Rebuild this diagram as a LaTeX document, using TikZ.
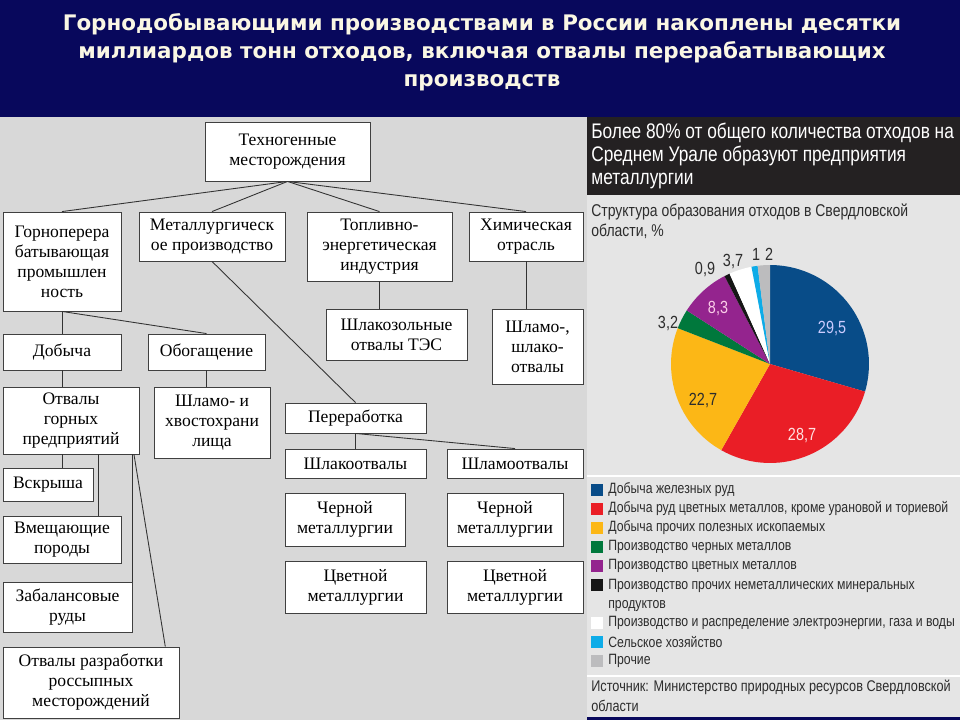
\documentclass[tikz,border=0pt]{standalone}
\usepackage{fontspec}
\setmainfont{Liberation Serif}
\newfontfamily\titlefont{DejaVu Sans}
\newfontfamily\chartfont[FakeStretch=0.82]{Liberation Sans}
\usetikzlibrary{calc}
\definecolor{slideNavy}{RGB}{8, 8, 92}
\definecolor{leftGray}{RGB}{216, 216, 216}
\definecolor{panelGray}{RGB}{229, 229, 229}
\definecolor{panelDark}{RGB}{36, 33, 34}
\definecolor{titleCream}{RGB}{250, 247, 228}
\definecolor{pieBlue}{RGB}{8, 76, 136}
\definecolor{pieRed}{RGB}{234, 30, 38}
\definecolor{pieOrange}{RGB}{252, 183, 22}
\definecolor{pieGreen}{RGB}{0, 120, 60}
\definecolor{piePurple}{RGB}{148, 36, 142}
\definecolor{pieBlack}{RGB}{22, 22, 22}
\definecolor{pieCyan}{RGB}{14, 172, 232}
\definecolor{pieGray}{RGB}{188, 188, 190}
\definecolor{inkGray}{RGB}{45, 45, 45}
\tikzset{
  title/.style={align=center, text=titleCream, inner sep=0pt, font=\titlefont\bfseries\fontsize{12.2}{15.9}\selectfont},
  box/.style={rectangle, draw=black!75, line width=0.5pt, fill=white, align=center, inner sep=1pt, font=\fontsize{10}{11.4}\selectfont},
  sz/.style 2 args={minimum width=#1*0.02cm, minimum height=#2*0.02cm},
  link/.style={draw=black!80, line width=0.5pt},
  headtext/.style={anchor=north west, align=left, inner sep=0pt, text=white, font=\chartfont\fontsize{12}{13.1}\selectfont},
  subtext/.style={anchor=north west, align=left, inner sep=0pt, text=inkGray, font=\chartfont\fontsize{9.7}{11.4}\selectfont},
  pielabel/.style={inner sep=0pt, font=\chartfont\fontsize{10}{12}\selectfont},
  legtext/.style={anchor=west, inner sep=0pt, text=inkGray, font=\chartfont\fontsize{8.5}{10.8}\selectfont},
  srctext/.style={anchor=north west, align=left, inner sep=0pt, text=inkGray, font=\chartfont\fontsize{8.8}{11}\selectfont},
}
\begin{document}
\begin{tikzpicture}[x=0.02cm, y=-0.02cm]
  \useasboundingbox (0,0) rectangle (960,720);
  % backgrounds
  \fill[slideNavy] (0,0) rectangle (960,117);
  \fill[leftGray] (0,117) rectangle (587,720);
  \fill[panelGray] (587,195) rectangle (960,720);
  \fill[panelDark] (587,117) rectangle (960,195);
  \draw[white, line width=1pt] (587,476) -- (960,476);
  \draw[white, line width=1pt] (587,676) -- (960,676);
  \fill[slideNavy] (587,717) rectangle (960,720);

  \node[title] (head) at (482,52) {Горнодобывающими производствами в России накоплены десятки\\миллиардов тонн отходов, включая отвалы перерабатывающих\\производств};

  % tree of waste sources
  \node[box, sz={165}{59}] (techno) at (287.5,151.5) {Техногенные\\месторождения};
  \node[box, sz={118}{99}] (gorno) at (62,261.5) {Горноперера\\батывающая\\промышлен\\ность};
  \node[box, sz={146}{49}] (metal) at (212,236.5) {Металлургическ\\ое производство};
  \node[box, sz={145}{69}] (toplivo) at (379.5,246.5) {Топливно-\\энергетическая\\индустрия};
  \node[box, sz={114}{49}] (khim) at (526,236.5) {Химическая\\отрасль};
  \node[box, sz={141}{51}] (shlakzol) at (396.5,334.5) {Шлакозольные\\отвалы ТЭС};
  \node[box, sz={91}{75}] (shlamo) at (537.5,346.5) {Шламо-,\\шлако-\\отвалы};
  \node[box, sz={118}{36}] (dobycha) at (62,352) {Добыча};
  \node[box, sz={117}{36}] (obog) at (206.5,352) {Обогащение};
  \node[box, sz={136}{67}] (otvgorn) at (71,420.5) {Отвалы\\горных\\предприятий};
  \node[box, sz={116}{71}] (hvost) at (212,422.5) {Шламо- и\\хвостохрани\\лища};
  \node[box, sz={90}{33}] (vskr) at (48,484.5) {Вскрыша};
  \node[box, sz={118}{47}] (vmesch) at (62,539.5) {Вмещающие\\породы};
  \node[box, sz={129}{50}] (zabal) at (67.5,607) {Забалансовые\\руды};
  \node[box, sz={176}{71}] (rossyp) at (91,682.5) {Отвалы разработки\\россыпных\\месторождений};
  \node[box, sz={141}{30}] (pererab) at (355.5,418) {Переработка};
  \node[box, sz={141}{29}] (shlakotv) at (355.5,463.5) {Шлакоотвалы};
  \node[box, sz={136}{29}] (shlamotv) at (515,463.5) {Шламоотвалы};
  \node[box, sz={120}{53}] (chernA) at (345,519.5) {Черной\\металлургии};
  \node[box, sz={141}{52}] (tsvetA) at (355.5,587) {Цветной\\металлургии};
  \node[box, sz={116}{53}] (chernB) at (505,519.5) {Черной\\металлургии};
  \node[box, sz={136}{52}] (tsvetB) at (515,587) {Цветной\\металлургии};

  \foreach \dst in {gorno, metal, toplivo, khim}
    \draw[link] (techno.south) -- (\dst.north);
  \draw[link] (gorno.south) -- (dobycha.north);
  \draw[link] (gorno.south) -- (obog.north);
  \draw[link] (dobycha.south) -- (dobycha.south |- otvgorn.north);
  \draw[link] (obog.south) -- (obog.south |- hvost.north);
  \draw[link] (otvgorn.south -| dobycha.south) -- (vskr.north -| dobycha.south);
  \coordinate (ogA) at ($(otvgorn.south west)!0.7!(otvgorn.south east)$);
  \coordinate (ogB) at ($(otvgorn.south west)!0.96!(otvgorn.south east)$);
  \draw[link] (ogA) -- (ogA |- vmesch.north);
  \draw[link] (zabal.north east |- otvgorn.south) -- (zabal.north east);
  \draw[link] (ogB) -- ($(rossyp.north west)!0.92!(rossyp.north east)$);
  \draw[link] (toplivo.south) -- (toplivo.south |- shlakzol.north);
  \draw[link] (khim.south) -- (khim.south |- shlamo.north);
  \draw[link] (metal.south) -- (pererab.north);
  \draw[link] (pererab.south) -- (shlakotv.north);
  \draw[link] (pererab.south) -- (shlamotv.north);
  \foreach \src/\dst/\f in {shlakotv/chernA/0.23, shlakotv/tsvetA/0.94, shlamotv/chernB/0.23, shlamotv/tsvetB/0.956}
    \draw[link] ($(\src.south west)!\f!(\src.south east)$) -- ($(\src.south west)!\f!(\src.south east)$ |- \dst.north);

  % chart panel
  \node[headtext] (charthead) at (591,123) {Более 80\% от общего количества отходов на\\Среднем Урале образуют предприятия\\металлургии};
  \node[subtext] (chartsub) at (591,203) {Структура образования отходов в Свердловской\\области, \%};

  \begin{scope}[shift={(770,364)}, x=1cm, y=1cm]
    \foreach \a/\b/\col in {90/-16.2/pieBlue, -16.2/-119.52/pieRed, -119.52/-201.24/pieOrange, -201.24/-212.76/pieGreen, -212.76/-242.64/piePurple, -242.64/-245.88/pieBlack, -245.88/-259.2/white, -259.2/-262.8/pieCyan, -262.8/-270/pieGray}
      \fill[\col] (0,0) -- (\a:1.98) arc[start angle=\a, end angle=\b, radius=1.98] -- cycle;
  \end{scope}

  \node[pielabel, text=blue!20!white] (valA) at (832,328) {29,5};
  \node[pielabel, text=red!12!white] (valB) at (802,435) {28,7};
  \node[pielabel, text=inkGray] (valC) at (703,400) {22,7};
  \node[pielabel, text=magenta!20!white] (valE) at (718,308) {8,3};
  \node[pielabel, text=inkGray] (valD) at (668,323) {3,2};
  \node[pielabel, text=inkGray] (valF) at (705,269) {0,9};
  \node[pielabel, text=inkGray] (valG) at (733,261) {3,7};
  \node[pielabel, text=inkGray] (valH) at (756,254) {1};
  \node[pielabel, text=inkGray] (valI) at (769,254) {2};

  % legend
  \foreach \y/\col/\txt [count=\i] in {490/pieBlue/{Добыча железных руд}, 509/pieRed/{Добыча руд цветных металлов, кроме урановой и ториевой}, 528/pieOrange/{Добыча прочих полезных ископаемых}, 547/pieGreen/{Производство черных металлов}, 566/piePurple/{Производство цветных металлов}, 623/white/{Производство и распределение электроэнергии, газа и воды}, 642/pieCyan/{Сельское хозяйство}, 661/pieGray/{Прочие}}
  {
    \fill[\col] (591,\y-6) rectangle (603,\y+6);
    \node[legtext] (leg\i) at (608,\y) {\txt};
  }
  \fill[pieBlack] (591,579) rectangle (603,591);
  \node[legtext, anchor=north west, align=left] (legBlack) at (608,579) {Производство прочих неметаллических минеральных\\продуктов};

  \node[srctext] (source) at (591,680) {Источник: Министерство природных ресурсов Свердловской\\области};
\end{tikzpicture}
\end{document}
